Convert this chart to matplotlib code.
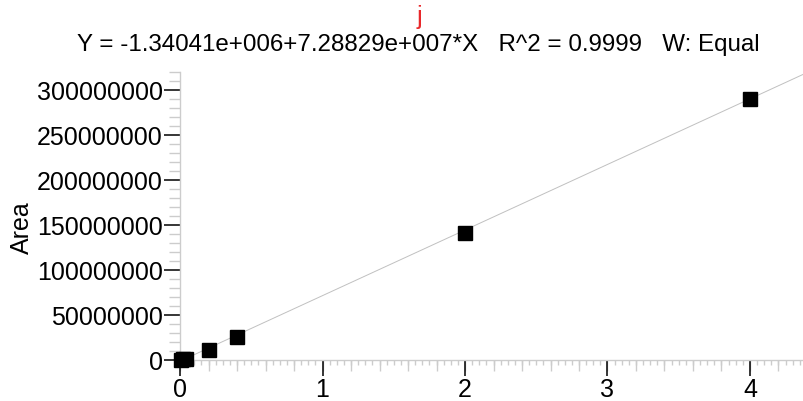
#!/usr/bin/python

############### Importing libraries ################
import matplotlib
matplotlib.use("Agg")
import matplotlib.pyplot as plt
from matplotlib.ticker import MultipleLocator, NullLocator
import numpy as np

plt.rcParams['font.family'] = ['Liberation Sans', 'DejaVu Sans']

############### Data ###############
# Concentration levels (x) and peak areas (y)
conc = [0.01, 0.02, 0.04, 0.2, 0.4, 2.0, 4.0]
area = [0.3e6, 0.8e6, 1.5e6, 11.0e6, 25.5e6, 141.0e6, 290.0e6]

# Fit coefficients as printed above the plot
intercept = -1.34041e6
slope = 7.28829e7

compound_name = "j"
fit_text = "Y = -1.34041e+006+7.28829e+007*X   R^2 = 0.9999   W: Equal"

y_ticks = [0, 50000000, 100000000, 150000000, 200000000, 250000000, 300000000]
x_ticks = [0, 1, 2, 3, 4]

############### Plotting ###############
def plot_calibration(outname):
    '''
    Draws the calibration curve with its linear fit.
    '''
    fig = plt.figure(figsize=(8.04, 4.01), dpi=100)
    ax = fig.add_axes([0.2239, 0.1022, 0.7761, 0.7182])

    xmax = 4.379
    ax.set_xlim(0, xmax)
    ax.set_ylim(0, 320000000)

    # Fit line across the whole x range
    xs = np.array([0, xmax])
    ax.plot(xs, intercept + slope * xs, color="#c0c0c0", linewidth=0.7, zorder=2)

    # Calibration points
    ax.plot(conc, area, "s", color="black", markersize=10, zorder=3, clip_on=False)

    # Spines: only left/bottom, light grey
    for side in ["top", "right"]:
        ax.spines[side].set_visible(False)
    for side in ["left", "bottom"]:
        ax.spines[side].set_color("#cccccc")
        ax.spines[side].set_linewidth(1.0)

    # Major ticks
    ax.set_xticks(x_ticks)
    ax.set_xticklabels([str(t) for t in x_ticks])
    ax.set_yticks(y_ticks)
    ax.set_yticklabels([str(t) for t in y_ticks])
    ax.tick_params(which="major", direction="out", length=11.5, width=1.1,
                   color="black", labelsize=18)
    ax.tick_params(axis="y", which="major", pad=1)
    ax.tick_params(axis="x", which="major", pad=1.5)

    # Minor ticks
    ax.xaxis.set_minor_locator(MultipleLocator(0.05))
    ax.yaxis.set_minor_locator(MultipleLocator(10000000))
    ax.tick_params(axis="x", which="minor", direction="out", length=3.8, width=1.0, color="#cccccc")
    ax.tick_params(axis="y", which="minor", direction="out", length=8, width=1.0, color="#cccccc")

    # Medium x ticks every 0.2 through a secondary axis
    sec = ax.secondary_xaxis("bottom")
    sec.spines["bottom"].set_visible(False)
    sec.xaxis.set_major_locator(NullLocator())
    sec.xaxis.set_minor_locator(MultipleLocator(0.2))
    sec.tick_params(which="minor", direction="out", length=8, width=1.0, color="#cccccc")

    # Texts
    fig.text(0.027, 0.433, "Area", rotation=90, fontsize=18, ha="center", va="center")
    fig.text(0.522, 0.958, compound_name, color="#e8282b", fontsize=18, ha="center", va="center")
    fig.text(0.52, 0.888, fit_text, fontsize=17.4, ha="center", va="center")

    fig.savefig(outname, dpi=100)

def main():
    plot_calibration("out.png")

if __name__ == "__main__":
    main()
